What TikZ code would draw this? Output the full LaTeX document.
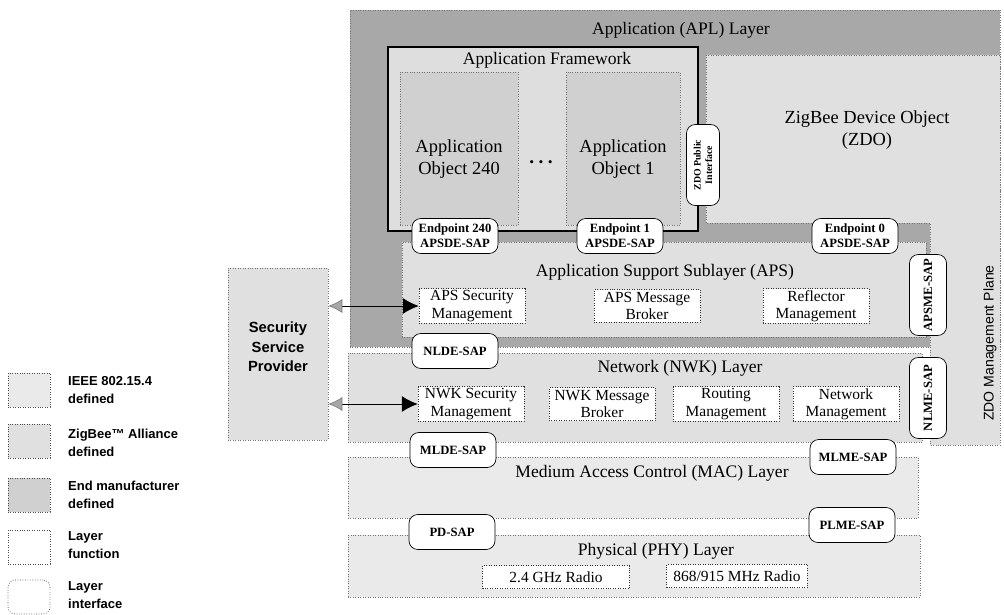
\documentclass[tikz,border=0pt]{standalone}
\usepackage{fontspec}
\setmainfont{Liberation Serif}
\setsansfont{Liberation Sans}
\usetikzlibrary{fit,arrows.meta}

\definecolor{ieeegray}{HTML}{EAEAEA}
\definecolor{zbgray}{HTML}{E0E0E0}
\definecolor{mfrgray}{HTML}{D0D0D0}
\definecolor{aplgray}{HTML}{A8A8A8}

\begin{document}
\begin{tikzpicture}[
    x=0.02cm, y=-0.02cm,
    layer/.style={draw=black!55, densely dotted, inner sep=0pt},
    fnbox/.style={draw=black!80, densely dotted, fill=white, minimum width=2.12cm, minimum height=0.66cm, inner sep=1pt, align=center, font=\fontsize{8.8}{9.8}\selectfont},
    sap/.style={draw, fill=white, rounded corners=5pt, minimum width=1.72cm, minimum height=0.7cm, inner sep=1pt, align=center, font=\bfseries\fontsize{7.2}{8.6}\selectfont},
    vsap/.style={sap, rotate=90, minimum width=1.62cm, minimum height=0.74cm},
    title/.style={font=\fontsize{10}{12}\selectfont},
    objtext/.style={align=center, font=\fontsize{10.5}{12.5}\selectfont},
    keybox/.style={draw=black!70, densely dotted, minimum width=0.84cm, minimum height=0.68cm},
    keytext/.style={anchor=west, align=left, font=\sffamily\bfseries\fontsize{7.4}{10}\selectfont},
    >={Latex[length=9pt,width=9pt]}
  ]
  \useasboundingbox (0,0) rectangle (1004,615);

  % Application layer, framework and ZDO
  \node[layer, fill=aplgray, fit={(350,10) (1000,347)}] (apl) {};
  \filldraw[draw=black!55, densely dotted, fill=zbgray] (706,55) -- (1000,55) -- (1000,445) -- (930,445) -- (930,223) -- (706,223) -- cycle;
  \node[inner sep=0pt, draw=black, line width=1pt, fill=mfrgray!70, fit={(388,47) (698,231)}] (frame) {};
  \node[layer, fill=mfrgray, fit={(400,72) (518,225)}] (obj240) {};
  \node[layer, fill=mfrgray, fit={(566,72) (680,225)}] (obj1) {};

  % Lower layers
  \node[layer, fill=zbgray, fit={(402,242) (926,337)}] (aps) {};
  \node[layer, fill=zbgray, fit={(348,353) (922,442)}] (nwk) {};
  \node[layer, fill=ieeegray, fit={(348,457) (918,518)}] (mac) {};
  \node[layer, fill=ieeegray, fit={(348,535) (920,597)}] (phy) {};
  \node[layer, fill=zbgray, fit={(228,268) (328,440)}] (ssp) {};

  % Titles
  \node[title] (apltitle) at (681,30) {Application (APL) Layer};
  \node[title] (frametitle) at (547,60) {Application Framework};
  \node[objtext] (obj240txt) at (459,159) {Application\\Object 240};
  \node[objtext] (obj1txt) at (623,159) {Application\\Object 1};
  \node[font=\bfseries\fontsize{11}{12}\selectfont] (dots) at (541,162) {.\hspace{2.5pt}.\hspace{2.5pt}.};
  \node[objtext] (zdo) at (867,130) {ZigBee Device Object\\(ZDO)};
  \node[font=\sffamily\fontsize{8}{9}\selectfont, rotate=90] (mgmt) at (990,343) {ZDO Management Plane};
  \node[title] (apstitle) at (665,272) {Application Support Sublayer (APS)};
  \node[title] (nwktitle) at (680,368) {Network (NWK) Layer};
  \node[title] (mactitle) at (652,473) {Medium Access Control (MAC) Layer};
  \node[title] (phytitle) at (656,551) {Physical (PHY) Layer};
  \node[align=center, font=\sffamily\bfseries\fontsize{8.4}{11}\selectfont] (ssptxt) at (278,347) {Security\\Service\\Provider};

  % Layer functions
  \node[fnbox] (apssec) at (472,306) {APS Security\\Management};
  \node[fnbox] (apsmsg) at (647,306) {APS Message\\Broker};
  \node[fnbox] (reflect) at (816,306) {Reflector\\Management};
  \node[fnbox] (nwksec) at (471,404) {NWK Security\\Management};
  \node[fnbox] (nwkmsg) at (602,404) {NWK Message\\Broker};
  \node[fnbox] (routing) at (726,404) {Routing\\Management};
  \node[fnbox] (nwkmgmt) at (846,404) {Network\\Management};
  \node[fnbox, minimum width=2.94cm, minimum height=0.46cm] (radio24) at (556,577) {2.4 GHz Radio};
  \node[fnbox, minimum width=2.82cm, minimum height=0.46cm] (radio868) at (737,576) {868/915 MHz Radio};

  % Layer interfaces
  \node[sap] (ep240) at (455,236) {Endpoint 240\\APSDE-SAP};
  \node[sap] (ep1) at (620,236) {Endpoint 1\\APSDE-SAP};
  \node[sap] (ep0) at (855,236) {Endpoint 0\\APSDE-SAP};
  \node[vsap, minimum height=0.66cm, font=\bfseries\fontsize{5.6}{6.6}\selectfont] (zdopub) at (703,165) {ZDO Public\\Interface};
  \node[vsap] (apsme) at (928,295) {APSME-SAP};
  \node[vsap] (nlme) at (928,398) {NLME-SAP};
  \node[sap] (nlde) at (455,351) {NLDE-SAP};
  \node[sap] (mlde) at (453,450) {MLDE-SAP};
  \node[sap] (mlme) at (853,457) {MLME-SAP};
  \node[sap] (pdsap) at (452,532) {PD-SAP};
  \node[sap] (plme) at (852,525) {PLME-SAP};

  % Security service links
  \draw[{Latex[length=8pt,width=8pt,color=gray,fill=gray!70]}->, thin] (ssp.east |- apssec.west) -- (apssec.west);
  \draw[{Latex[length=8pt,width=8pt,color=gray,fill=gray!70]}->, thin] (ssp.east |- nwksec.west) -- (nwksec.west);

  % Legend
  \node[keybox, fill=ieeegray] (keyieee) at (29,390) {};
  \node[keybox, fill=zbgray] (keyzb) at (29,441) {};
  \node[keybox, fill=mfrgray] (keymfr) at (29,495) {};
  \node[keybox, fill=white] (keyfn) at (29,547) {};
  \node[keybox, fill=white, rounded corners=4pt] (keysap) at (29,597) {};
  \node[keytext] (txtieee) at (62,390) {IEEE 802.15.4\\defined};
  \node[keytext] (txtzb) at (62,443) {ZigBee™ Alliance\\defined};
  \node[keytext] (txtmfr) at (62,495) {End manufacturer\\defined};
  \node[keytext] (txtfn) at (62,545) {Layer\\function};
  \node[keytext] (txtsap) at (62,595) {Layer\\interface};
\end{tikzpicture}
\end{document}
